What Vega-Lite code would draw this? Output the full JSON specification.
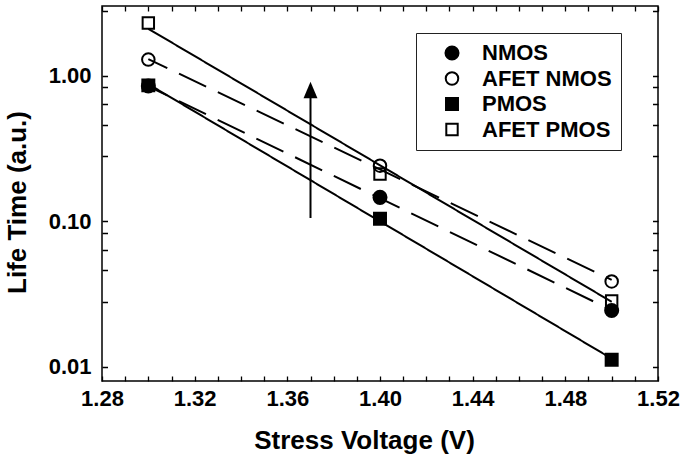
{
  "$schema": "https://vega.github.io/schema/vega-lite/v6.json",
  "width": 556,
  "height": 375,
  "autosize": "none",
  "padding": {"left": 102, "top": 6, "right": 24, "bottom": 77},
  "background": "white",
  "config": {
    "view": {"stroke": "black", "strokeWidth": 1.5},
    "axis": {
      "grid": false,
      "domain": false,
      "ticks": true,
      "tickColor": "black",
      "tickWidth": 1.3,
      "labelFont": "Liberation Sans",
      "labelFontWeight": "bold",
      "labelFontSize": 22,
      "labelColor": "black",
      "titleFont": "Liberation Sans",
      "titleFontWeight": "bold",
      "titleFontSize": 26,
      "titleColor": "black"
    },
    "legend": {
      "labelFont": "Liberation Sans",
      "labelFontWeight": "bold",
      "labelFontSize": 22,
      "labelColor": "black"
    }
  },
  "datasets": {
    "measured": [
      {"series": "AFET PMOS", "voltage": 1.30, "lifetime": 2.30},
      {"series": "AFET PMOS", "voltage": 1.40, "lifetime": 0.211},
      {"series": "AFET PMOS", "voltage": 1.50, "lifetime": 0.0284},
      {"series": "AFET NMOS", "voltage": 1.30, "lifetime": 1.29},
      {"series": "AFET NMOS", "voltage": 1.40, "lifetime": 0.241},
      {"series": "AFET NMOS", "voltage": 1.50, "lifetime": 0.0386},
      {"series": "NMOS", "voltage": 1.30, "lifetime": 0.85},
      {"series": "NMOS", "voltage": 1.40, "lifetime": 0.146},
      {"series": "NMOS", "voltage": 1.50, "lifetime": 0.0244},
      {"series": "PMOS", "voltage": 1.30, "lifetime": 0.858},
      {"series": "PMOS", "voltage": 1.40, "lifetime": 0.104},
      {"series": "PMOS", "voltage": 1.50, "lifetime": 0.0112}
    ],
    "fits": [
      {"series": "AFET PMOS", "style": "solid", "voltage": 1.30, "lifetime": 2.10},
      {"series": "AFET PMOS", "style": "solid", "voltage": 1.50, "lifetime": 0.028},
      {"series": "AFET NMOS", "style": "dashed", "voltage": 1.30, "lifetime": 1.30},
      {"series": "AFET NMOS", "style": "dashed", "voltage": 1.50, "lifetime": 0.0396},
      {"series": "NMOS", "style": "dashed", "voltage": 1.30, "lifetime": 0.845},
      {"series": "NMOS", "style": "dashed", "voltage": 1.50, "lifetime": 0.0245},
      {"series": "PMOS", "style": "solid", "voltage": 1.30, "lifetime": 0.875},
      {"series": "PMOS", "style": "solid", "voltage": 1.50, "lifetime": 0.0114}
    ],
    "arrow": [
      {"voltage": 1.37, "from": 0.1053, "to": 0.736, "head": 0.797}
    ]
  },
  "resolve": {"axis": {"x": "independent", "y": "independent"}},
  "layer": [
    {
      "data": {"name": "fits"},
      "mark": {"type": "line", "stroke": "black", "strokeWidth": 2, "strokeDashOffset": 9},
      "encoding": {
        "x": {
          "field": "voltage", "type": "quantitative",
          "scale": {"domain": [1.28, 1.52], "zero": false, "nice": false},
          "axis": {
            "orient": "bottom",
            "values": [1.28, 1.29, 1.30, 1.31, 1.32, 1.33, 1.34, 1.35, 1.36, 1.37, 1.38, 1.39, 1.40, 1.41, 1.42, 1.43, 1.44, 1.45, 1.46, 1.47, 1.48, 1.49, 1.50, 1.51, 1.52],
            "labelExpr": "round(datum.value * 100) % 4 == 0 ? format(datum.value, '.2f') : ''",
            "labelOverlap": false,
            "labelFlush": false,
            "ticks": false,
            "labelPadding": 7,
            "grid": true,
            "gridColor": "black",
            "gridOpacity": 1,
            "gridWidth": 1.3,
            "gridDash": [5, 365, 5, 100],
            "title": "Stress Voltage (V)",
            "titleX": 262,
            "titleY": 67,
            "titleAlign": "center",
            "titleBaseline": "alphabetic"
          }
        },
        "y": {
          "field": "lifetime", "type": "quantitative",
          "scale": {"type": "log", "domain": [0.008, 3.01], "nice": false},
          "axis": {
            "orient": "left",
            "values": [2.8, 1, 0.83, 0.64, 0.46, 0.28, 0.1, 0.083, 0.064, 0.046, 0.028, 0.01],
            "labelExpr": "abs(log(datum.value) / LN10 - round(log(datum.value) / LN10)) < 0.001 ? format(datum.value, '.2f') : ''",
            "labelOverlap": false,
            "labelFlush": false,
            "ticks": false,
            "labelPadding": 11,
            "grid": true,
            "gridColor": "black",
            "gridOpacity": 1,
            "gridWidth": 1.3,
            "gridDash": [5.5, 545, 5.5, 100],
            "title": "Life Time (a.u.)",
            "titleAngle": -90,
            "titleX": -77,
            "titleY": 196,
            "titleAlign": "center",
            "titleBaseline": "alphabetic"
          }
        },
        "detail": {"field": "series"},
        "strokeDash": {
          "field": "style", "type": "nominal",
          "scale": {"domain": ["solid", "dashed"], "range": [[1, 0], [30, 13]]},
          "legend": null
        }
      }
    },
    {
      "data": {"name": "measured"},
      "mark": {"type": "point", "filled": true, "stroke": "black", "strokeWidth": 2, "opacity": 1},
      "encoding": {
        "x": {
          "field": "voltage", "type": "quantitative",
          "scale": {"domain": [1.28, 1.52], "zero": false, "nice": false},
          "axis": null
        },
        "y": {
          "field": "lifetime", "type": "quantitative",
          "scale": {"type": "log", "domain": [0.008, 3.01], "nice": false},
          "axis": null
        },
        "shape": {
          "field": "series", "type": "nominal",
          "scale": {"domain": ["NMOS", "AFET NMOS", "PMOS", "AFET PMOS"], "range": ["circle", "circle", "square", "square"]},
          "legend": {
            "title": null,
            "orient": "none",
            "legendX": 314,
            "legendY": 27,
            "padding": 9,
            "symbolOffset": 16,
            "labelOffset": 19,
            "rowPadding": 3.5,
            "strokeColor": "#222",
            "symbolStrokeColor": "black",
            "symbolStrokeWidth": 2
          }
        },
        "fill": {
          "field": "series", "type": "nominal",
          "scale": {"domain": ["NMOS", "AFET NMOS", "PMOS", "AFET PMOS"], "range": ["black", "transparent", "black", "transparent"]},
          "legend": {"title": null}
        },
        "size": {
          "field": "series", "type": "nominal",
          "scale": {"domain": ["NMOS", "AFET NMOS", "PMOS", "AFET PMOS"], "range": [170, 130, 230, 190]},
          "legend": {"title": null}
        }
      }
    },
    {
      "data": {"name": "arrow"},
      "mark": {"type": "rule", "stroke": "black", "strokeWidth": 2},
      "encoding": {
        "x": {
          "field": "voltage", "type": "quantitative",
          "scale": {"domain": [1.28, 1.52], "zero": false, "nice": false},
          "axis": null
        },
        "y": {
          "field": "from", "type": "quantitative",
          "scale": {"type": "log", "domain": [0.008, 3.01], "nice": false},
          "axis": null
        },
        "y2": {"field": "to"}
      }
    },
    {
      "data": {"name": "arrow"},
      "mark": {"type": "point", "shape": "M0,-1L-0.84,1L0.84,1Z", "filled": true, "fill": "black", "stroke": null, "size": 275, "opacity": 1},
      "encoding": {
        "x": {
          "field": "voltage", "type": "quantitative",
          "scale": {"domain": [1.28, 1.52], "zero": false, "nice": false},
          "axis": null
        },
        "y": {
          "field": "head", "type": "quantitative",
          "scale": {"type": "log", "domain": [0.008, 3.01], "nice": false},
          "axis": null
        }
      }
    }
  ]
}
